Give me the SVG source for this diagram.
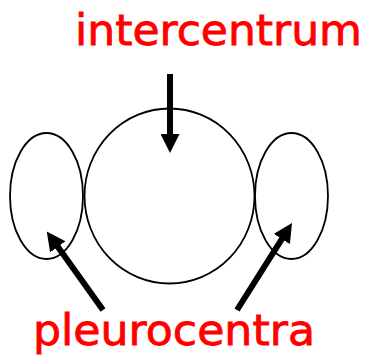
<svg xmlns="http://www.w3.org/2000/svg" width="367" height="358" viewBox="0 0 367 358">
<style>
.shape{fill:none;stroke:#000;stroke-width:1.8}
.arrow{stroke:#000;stroke-width:6;fill:none;marker-end:url(#head)}
.label{fill:#ff0000;stroke:#ff0000;stroke-width:0.8;font-family:"Comic Sans MS","DejaVu Sans",sans-serif;font-size:42px}
</style>
<defs>
<marker id="head" markerUnits="userSpaceOnUse" markerWidth="19" markerHeight="19" refX="4" refY="9.5" orient="auto" viewBox="0 0 19 19">
<path d="M0,0 L19,9.5 L0,19 z" fill="#000"/>
</marker>
</defs>
<rect width="367" height="358" fill="#fff"/>
<g id="pleurocentrum-left"><ellipse class="shape" cx="46.5" cy="196" rx="36.5" ry="63"/></g>
<g id="intercentrum-body"><ellipse class="shape" cx="169.5" cy="196" rx="85" ry="87.5"/></g>
<g id="pleurocentrum-right"><ellipse class="shape" cx="291.5" cy="196" rx="36.5" ry="63"/></g>
<g id="label-intercentrum"><text class="label" x="75" y="45" textLength="287" lengthAdjust="spacingAndGlyphs">intercentrum</text></g>
<g id="label-pleurocentra"><text class="label" x="33" y="345" textLength="282" lengthAdjust="spacingAndGlyphs">pleurocentra</text></g>
<g id="connectors">
<line class="arrow" x1="170" y1="74" x2="170" y2="138"/>
<line class="arrow" x1="103" y1="310" x2="55.5" y2="243.6"/>
<line class="arrow" x1="237" y1="310" x2="284" y2="235.6"/>
</g>
</svg>
